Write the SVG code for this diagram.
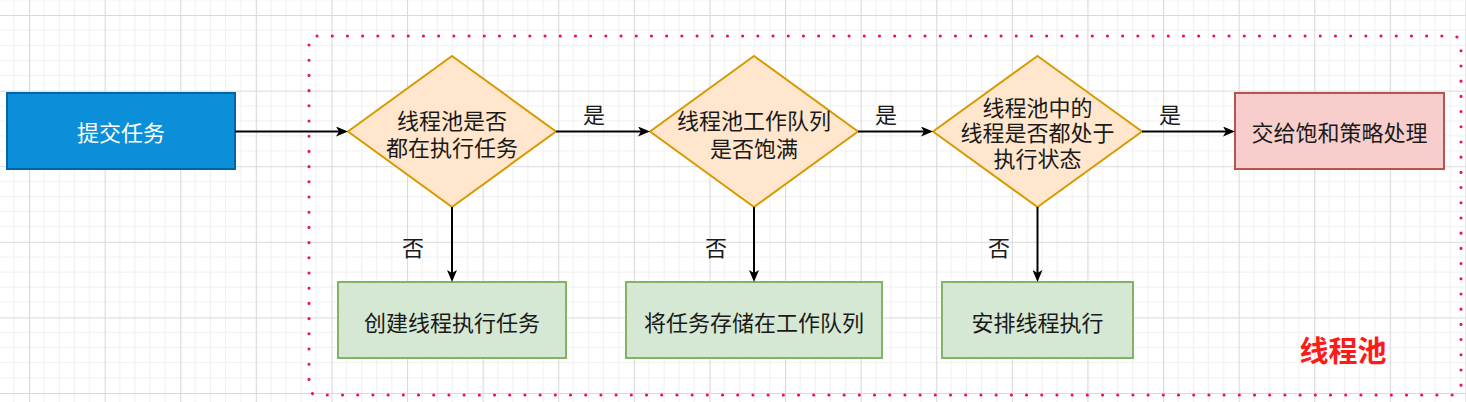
<svg xmlns="http://www.w3.org/2000/svg" width="1466" height="402" viewBox="0 0 1466 402">
<defs>
<pattern id="grid" patternUnits="userSpaceOnUse" x="29" y="15" width="75.6" height="75.6">
<path d="M15.12,0V75.6M30.24,0V75.6M45.36,0V75.6M60.48,0V75.6M0,15.12H75.6M0,30.24H75.6M0,45.36H75.6M0,60.48H75.6" stroke="#efefef" stroke-width="1" fill="none"/>
<path d="M0.5,0V75.6M0,0.5H75.6" stroke="#d9d9d9" stroke-width="1.2" fill="none"/>
</pattern>
<marker id="arr" viewBox="0 0 12 10" refX="6" refY="5" markerWidth="12" markerHeight="10" markerUnits="userSpaceOnUse" orient="auto">
<path d="M0,0 L12,5 L0,10 L3,5 Z" fill="#000"/>
</marker>
<style>
text{font-family:"Noto Sans CJK SC","Noto Sans",sans-serif;font-size:22px;fill:#1a1a1a;text-anchor:middle;dominant-baseline:central}
.dia{fill:#ffe6cc;stroke:#d79b00;stroke-width:2}
.green{fill:#d5e8d4;stroke:#82b366;stroke-width:2}
.conn line{stroke:#000;stroke-width:2;marker-end:url(#arr)}
</style>
</defs>
<rect width="1466" height="402" fill="#ffffff"/>
<rect width="1466" height="402" fill="url(#grid)"/>
<g id="pool">
<rect x="309" y="36" width="1152" height="359" rx="8" fill="none" stroke="#ee1144" stroke-width="3" stroke-linecap="round" stroke-dasharray="0.1 15.1"/>
<text x="1343" y="349" style="font-size:29px;font-weight:bold;fill:#ff1a1a">线程池</text>
</g>
<g id="submit">
<rect x="7" y="93" width="228" height="76" fill="#0a8fd8" stroke="#0066a8" stroke-width="2"/>
<text x="121" y="131" style="fill:#ffffff">提交任务</text>
</g>
<g id="d1">
<polygon class="dia" points="452,56 556,131.5 452,207 348,131.5"/>
<text x="452" y="119">线程池是否</text>
<text x="452" y="146">都在执行任务</text>
</g>
<g id="d2">
<polygon class="dia" points="754,56 858,131.5 754,207 650,131.5"/>
<text x="754" y="119">线程池工作队列</text>
<text x="754" y="147">是否饱满</text>
</g>
<g id="d3">
<polygon class="dia" points="1037.5,56 1142,131.5 1037.5,207 933,131.5"/>
<text x="1037.5" y="106">线程池中的</text>
<text x="1037.5" y="131">线程是否都处于</text>
<text x="1037.5" y="157">执行状态</text>
</g>
<g id="reject">
<rect x="1235" y="93" width="209" height="76" fill="#f8cecc" stroke="#b85450" stroke-width="2"/>
<text x="1339.5" y="131">交给饱和策略处理</text>
</g>
<g id="create">
<rect class="green" x="338" y="282" width="228" height="76"/>
<text x="452" y="321">创建线程执行任务</text>
</g>
<g id="queue">
<rect class="green" x="626" y="282" width="256" height="76"/>
<text x="754" y="321">将任务存储在工作队列</text>
</g>
<g id="run">
<rect class="green" x="942" y="282" width="191" height="76"/>
<text x="1037.5" y="321">安排线程执行</text>
</g>
<g class="conn" id="connectors">
<line x1="235" y1="131.5" x2="342" y2="131.5"/>
<line x1="556" y1="131.5" x2="644" y2="131.5"/>
<line x1="858" y1="131.5" x2="927" y2="131.5"/>
<line x1="1142" y1="131.5" x2="1229" y2="131.5"/>
<line x1="452" y1="207" x2="452" y2="276"/>
<line x1="754" y1="207" x2="754" y2="276"/>
<line x1="1037.5" y1="207" x2="1037.5" y2="276"/>
<text x="594" y="113">是</text>
<text x="886" y="113">是</text>
<text x="1170" y="113">是</text>
<text x="413" y="246">否</text>
<text x="716" y="246">否</text>
<text x="999" y="246">否</text>
</g>
</svg>
